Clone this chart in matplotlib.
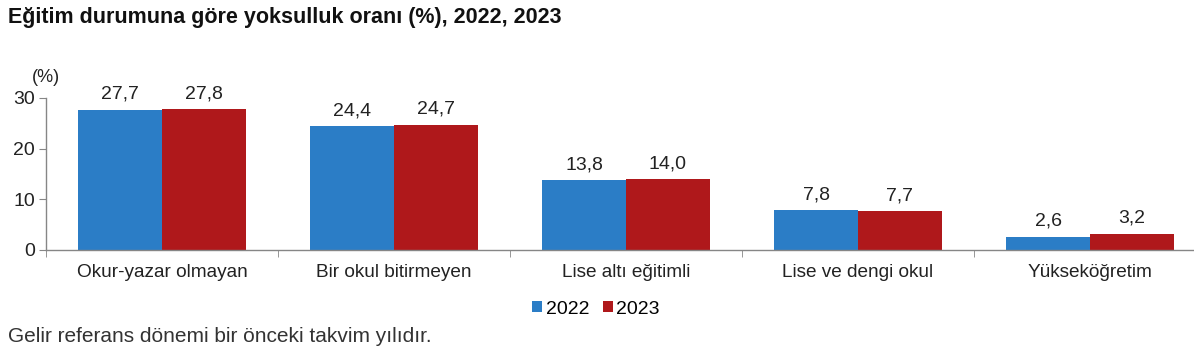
import matplotlib
matplotlib.use("Agg")
import matplotlib.pyplot as plt
import numpy as np

categories = ["Okur-yazar olmayan", "Bir okul bitirmeyen", "Lise altı eğitimli",
              "Lise ve dengi okul", "Yükseköğretim"]
series_names = ["2022", "2023"]
values_2022 = [27.7, 24.4, 13.8, 7.8, 2.6]
values_2023 = [27.8, 24.7, 14.0, 7.7, 3.2]
yticks = [0, 10, 20, 30]

plt.rcParams['font.family'] = ['Liberation Sans', 'DejaVu Sans']

W, H = 1194, 358
fig = plt.figure(figsize=(W/100, H/100), dpi=100)
left = 46 / W
right = 1206 / W
bottom = 1 - 250 / H
top = 1 - 98 / H
ax = fig.add_axes([left, bottom, right - left, top - bottom])

blue = "#2B7DC6"
red = "#AF181B"
x = np.arange(len(categories))
bw = 0.362
b1 = ax.bar(x - bw/2, values_2022, bw, color=blue, label=series_names[0])
b2 = ax.bar(x + bw/2, values_2023, bw, color=red, label=series_names[1])

def fmt(v):
    return f"{v:.1f}".replace(".", ",")

for bars, vals in ((b1, values_2022), (b2, values_2023)):
    for rect, v in zip(bars, vals):
        ax.annotate(fmt(v), (rect.get_x() + rect.get_width()/2, v),
                    xytext=(0, 5), textcoords="offset points",
                    ha="center", va="bottom", fontsize=14, color="#222222")

ax.set_xlim(-0.5, len(categories) - 0.5)
ax.set_ylim(0, 30)
ax.set_yticks(yticks)
ax.set_yticklabels([str(t) for t in yticks], fontsize=14, color="#222222")
ax.set_xticks(x)
ax.set_xticklabels(categories, fontsize=13.7, color="#222222")
ax.tick_params(axis="x", length=0, pad=10)
ax.set_xticks(np.arange(-0.5, len(categories) + 0.5, 1), minor=True)
ax.tick_params(axis="x", which="minor", length=5, color="#868686")
ax.tick_params(axis="y", length=5, color="#868686", pad=3)

for s in ("top", "right"):
    ax.spines[s].set_visible(False)
for s in ("left", "bottom"):
    ax.spines[s].set_color("#868686")
    ax.spines[s].set_linewidth(1)

fig.text(8/W, 1 - 18/H, "Eğitim durumuna göre yoksulluk oranı (%), 2022, 2023",
         fontsize=15.5, fontweight="bold", ha="left", va="center", color="#111111")
fig.text(32/W, 1 - 78/H, "(%)", fontsize=13, ha="left", va="center", color="#222222")
fig.text(8/W, 1 - 336/H, "Gelir referans dönemi bir önceki takvim yılıdır.",
         fontsize=15, ha="left", va="center", color="#333333")

fig.legend(handles=[b1, b2], labels=series_names, loc="center",
           bbox_to_anchor=(596/W, 1 - 309/H), ncol=2, frameon=False,
           fontsize=14, handlelength=0.5, handleheight=0.5,
           handletextpad=0.2, columnspacing=0.7)

fig.savefig("out.png", dpi=100)
